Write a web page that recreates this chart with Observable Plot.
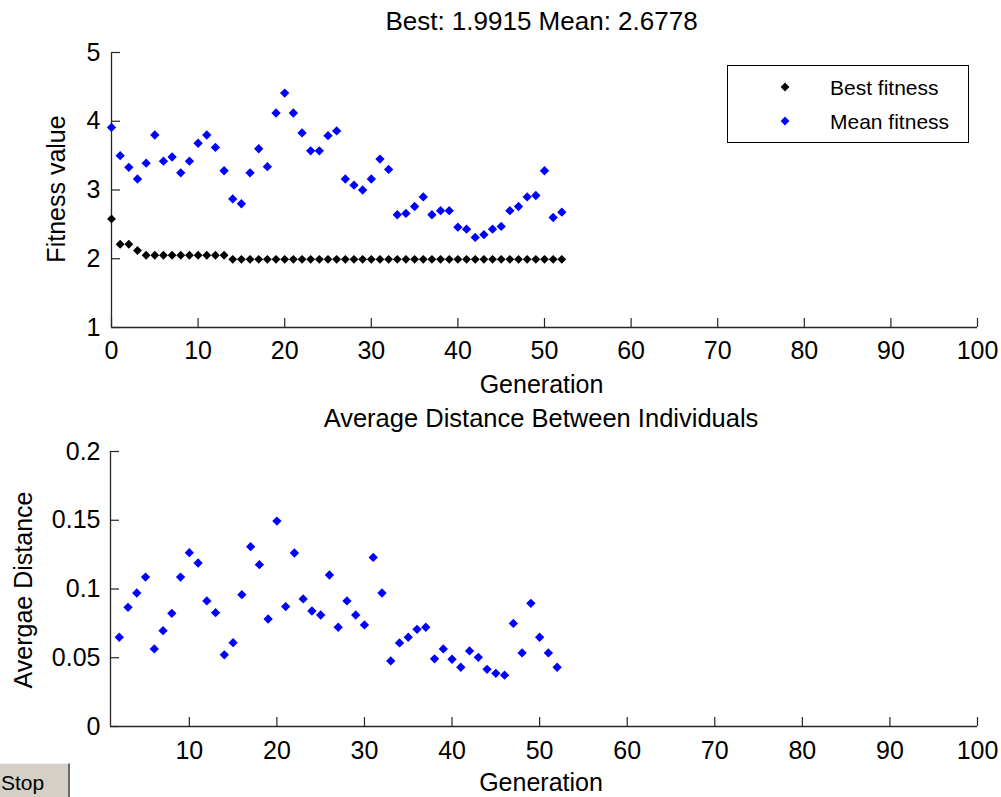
<!DOCTYPE html>
<html><head><meta charset="utf-8">
<script src="https://cdn.jsdelivr.net/npm/d3@7"></script>
<script src="https://cdn.jsdelivr.net/npm/@observablehq/plot@0.6"></script>
<style>
html,body{margin:0;padding:0;background:#fff;}
body{width:1001px;height:797px;overflow:hidden;position:relative;font-family:"Liberation Sans",Arial,Helvetica,sans-serif;}
#top{position:absolute;left:0;top:0;}
#bottom{position:absolute;left:0;top:400px;}
#legend{position:absolute;left:727px;top:65px;}
#stop{position:absolute;left:0;top:763px;width:70px;height:34px;background:#d4d0c8;border-top:1px solid #f4f2ee;border-right:2px solid #6a6a6a;box-sizing:border-box;font-size:21px;line-height:21px;padding-top:8px;padding-left:1px;color:#000;}
</style></head><body>
<div id="top"></div>
<div id="bottom"></div>
<div id="legend"></div>
<div id="stop">Stop</div>
<script>
// ---- data ----
const generations = [0,1,2,3,4,5,6,7,8,9,10,11,12,13,14,15,16,17,18,19,20,21,22,23,24,25,26,27,28,29,30,31,32,33,34,35,36,37,38,39,40,41,42,43,44,45,46,47,48,49,50,51,52];
const bestFitness = [2.58,2.21,2.21,2.12,2.05,2.05,2.05,2.05,2.05,2.05,2.05,2.05,2.05,2.05,
  1.9915,1.9915,1.9915,1.9915,1.9915,1.9915,1.9915,1.9915,1.9915,1.9915,1.9915,1.9915,1.9915,
  1.9915,1.9915,1.9915,1.9915,1.9915,1.9915,1.9915,1.9915,1.9915,1.9915,1.9915,1.9915,1.9915,
  1.9915,1.9915,1.9915,1.9915,1.9915,1.9915,1.9915,1.9915,1.9915,1.9915,1.9915,1.9915,1.9915];
const meanFitness = [3.91,3.50,3.33,3.16,3.39,3.80,3.42,3.48,3.25,3.42,3.68,3.80,3.62,3.28,2.87,2.80,
  3.25,3.60,3.34,4.12,4.41,4.12,3.83,3.57,3.57,3.79,3.86,3.16,3.07,3.00,3.16,3.45,3.30,2.64,2.66,
  2.76,2.90,2.64,2.70,2.70,2.46,2.43,2.31,2.35,2.43,2.47,2.70,2.76,2.90,2.92,3.28,2.60,2.6778];
const distGenerations = [2,3,4,5,6,7,8,9,10,11,12,13,14,15,16,17,18,19,20,21,22,23,24,25,26,27,28,29,30,31,32,33,34,35,36,37,38,39,40,41,42,43,44,45,46,47,48,49,50,51,52];
const avgDistance = [0.0649,0.0867,0.0971,0.1087,0.0564,0.0697,0.0823,0.1087,0.1264,0.1189,0.0913,0.0828,
  0.0521,0.0610,0.0959,0.1308,0.1177,0.0782,0.1494,0.0872,0.1262,0.0928,0.0840,0.0811,0.1102,0.0722,
  0.0913,0.0811,0.0739,0.1230,0.0971,0.0477,0.0608,0.0649,0.0707,0.0722,0.0492,0.0564,0.0489,0.0431,
  0.0550,0.0503,0.0416,0.0387,0.0373,0.0750,0.0535,0.0896,0.0649,0.0535,0.0431];
const fitnessXTicks = [0,10,20,30,40,50,60,70,80,90,100];
const fitnessYTicks = [1,2,3,4,5];
const distXTicks = [10,20,30,40,50,60,70,80,90,100];
const distYTicks = [0,0.05,0.1,0.15,0.2];
const topTitle = "Best: 1.9915 Mean: 2.6778";
const bottomTitle = "Average Distance Between Individuals";
const xLabel = "Generation";
const topYLabel = "Fitness value";
const bottomYLabel = "Avergae Distance";
const seriesNames = ["Best fitness","Mean fitness"];
const seriesColors = ["#000000","#0000ff"];

// ---- tables ----
const fitnessRows = generations.map((g,i)=>({g, best:bestFitness[i], mean:meanFitness[i]}));
const distRows = distGenerations.map((g,i)=>({g, d:avgDistance[i]}));

const FONT = '"Liberation Sans", Arial, Helvetica, sans-serif';
const AX = "#262626";
const W = 1001;
const fmt = d => String(d);

// ---- top chart ----
{
  const H = 400, mt = 52, mb = 73, ml = 111, mr = 24;
  const ph = H - mt - mb, pw = W - ml - mr;
  const chart = Plot.plot({
    width: W, height: H, marginTop: mt, marginBottom: mb, marginLeft: ml, marginRight: mr,
    style: {fontFamily: FONT, fontSize: "25px", color: "#000", background: "transparent", overflow: "visible"},
    x: {domain: [0, 100]},
    y: {domain: [1, 5]},
    marks: [
      Plot.axisX(fitnessXTicks, {tickSize: 0, tickPadding: 14, tickFormat: fmt, label: null}),
      Plot.axisY(fitnessYTicks, {tickSize: 0, tickPadding: 11, tickFormat: fmt, label: null}),
      Plot.tickX(fitnessXTicks, {x: d => d, insetTop: ph - 9, stroke: AX, strokeWidth: 1.2}),
      Plot.tickY(fitnessYTicks, {y: d => d, insetRight: pw - 9, stroke: AX, strokeWidth: 1.2}),
      Plot.ruleX([0], {stroke: AX, strokeWidth: 1.3}),
      Plot.ruleY([1], {stroke: AX, strokeWidth: 1.3}),
      Plot.dot(fitnessRows, {x: "g", y: "best", symbol: "diamond2", r: 4, fill: seriesColors[0], stroke: null}),
      Plot.dot(fitnessRows, {x: "g", y: "mean", symbol: "diamond2", r: 4.2, fill: seriesColors[1], stroke: null}),
      Plot.text([topTitle], {text: d => d, frameAnchor: "top", dx: -3, dy: -31, lineAnchor: "middle", fontSize: 26}),
      Plot.text([xLabel], {text: d => d, frameAnchor: "bottom", dx: -3, dy: 57, lineAnchor: "middle"}),
      Plot.text([topYLabel], {text: d => d, frameAnchor: "left", dx: -54.5, dy: -1, rotate: -90, textAnchor: "middle", lineAnchor: "middle"})
    ]
  });
  document.getElementById("top").appendChild(chart);
}

// ---- bottom chart ----
{
  const H = 397, mt = 51, mb = 71, ml = 110, mr = 24;
  const ph = H - mt - mb, pw = W - ml - mr;
  const chart = Plot.plot({
    width: W, height: H, marginTop: mt, marginBottom: mb, marginLeft: ml, marginRight: mr,
    style: {fontFamily: FONT, fontSize: "25px", color: "#000", background: "transparent", overflow: "visible"},
    x: {domain: [1, 100]},
    y: {domain: [0, 0.2]},
    marks: [
      Plot.axisX(distXTicks, {tickSize: 0, tickPadding: 15, tickFormat: fmt, label: null}),
      Plot.axisY(distYTicks, {tickSize: 0, tickPadding: 10, tickFormat: fmt, label: null}),
      Plot.tickX(distXTicks, {x: d => d, insetTop: ph - 9, stroke: AX, strokeWidth: 1.2}),
      Plot.tickY(distYTicks, {y: d => d, insetRight: pw - 9, stroke: AX, strokeWidth: 1.2}),
      Plot.ruleX([1], {stroke: AX, strokeWidth: 1.3}),
      Plot.ruleY([0], {stroke: AX, strokeWidth: 1.3}),
      Plot.dot(distRows, {x: "g", y: "d", symbol: "diamond2", r: 4.2, fill: seriesColors[1], stroke: null}),
      Plot.text([bottomTitle], {text: d => d, frameAnchor: "top", dx: -3, dy: -33, lineAnchor: "middle", fontSize: 25.5}),
      Plot.text([xLabel], {text: d => d, frameAnchor: "bottom", dx: -3, dy: 56.5, lineAnchor: "middle"}),
      Plot.text([bottomYLabel], {text: d => d, frameAnchor: "left", dx: -87, dy: 1, rotate: -90, textAnchor: "middle", lineAnchor: "middle"})
    ]
  });
  document.getElementById("bottom").appendChild(chart);
}

// ---- legend ----
{
  const ns = "http://www.w3.org/2000/svg";
  const svg = document.createElementNS(ns, "svg");
  svg.setAttribute("width", 242); svg.setAttribute("height", 78);
  svg.style.fontFamily = FONT;
  const rect = document.createElementNS(ns, "rect");
  rect.setAttribute("x", 0.5); rect.setAttribute("y", 0.5);
  rect.setAttribute("width", 241); rect.setAttribute("height", 77);
  rect.setAttribute("fill", "#fff"); rect.setAttribute("stroke", "#000");
  svg.appendChild(rect);
  const rows = [22, 56];
  seriesNames.forEach((name, i) => {
    const cy = rows[i], cx = 58, s = 4.4;
    const p = document.createElementNS(ns, "path");
    p.setAttribute("d", `M${cx},${cy - s}L${cx + s},${cy}L${cx},${cy + s}L${cx - s},${cy}Z`);
    p.setAttribute("fill", seriesColors[i]);
    svg.appendChild(p);
    const t = document.createElementNS(ns, "text");
    t.setAttribute("x", 103); t.setAttribute("y", cy + 7.5);
    t.setAttribute("font-size", "21px"); t.setAttribute("fill", "#000");
    t.textContent = name;
    svg.appendChild(t);
  });
  document.getElementById("legend").appendChild(svg);
}
</script>
</body></html>
